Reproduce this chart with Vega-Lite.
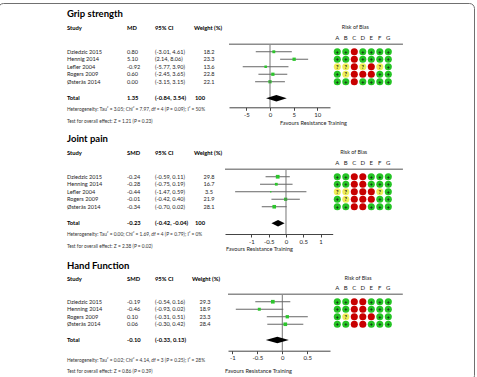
{
  "$schema": "https://vega.github.io/schema/vega-lite/v6.json",
  "width": 476,
  "height": 377,
  "autosize": {"type": "none"},
  "padding": {"left": -2, "top": 3, "right": 3, "bottom": -3},
  "background": "white",
  "config": {
    "view": {"stroke": "#707070", "strokeWidth": 1, "cornerRadius": 5},
    "font": "Lato",
    "axis": {"labelFont": "Lato", "labelFontSize": 6, "labelColor": "#222", "labelPadding": 1, "domainColor": "#444", "tickColor": "#444", "tickSize": 3, "grid": false, "titleFont": "Lato", "titleFontSize": 5.6, "titleFontWeight": "normal", "titleColor": "#222"},
    "style": {
      "tb": {"fontSize": 5.6, "color": "#1e1e1e", "baseline": "middle", "align": "left"},
      "tbb": {"fontSize": 5.8, "color": "#000", "fontWeight": "bold", "baseline": "middle", "align": "left"},
      "ttl": {"fontSize": 9.5, "color": "#000", "fontWeight": "bold", "baseline": "middle", "align": "left"},
      "note": {"fontSize": 4.8, "color": "#333", "baseline": "middle", "align": "left"},
      "rob": {"fontSize": 5.6, "color": "#222", "baseline": "middle", "align": "center"}
    }
  },
  "datasets": {
    "grip": [
      {"study": "Dziedzic 2015", "row": 1, "est": 0.80, "lo": -3.01, "hi": 4.61, "weight": 18.2},
      {"study": "Hennig 2014", "row": 2, "est": 5.10, "lo": 2.14, "hi": 8.06, "weight": 23.3},
      {"study": "Lefler 2004", "row": 3, "est": -0.92, "lo": -5.77, "hi": 3.90, "weight": 13.6},
      {"study": "Rogers 2009", "row": 4, "est": 0.60, "lo": -2.45, "hi": 3.65, "weight": 22.8},
      {"study": "Østerås 2014", "row": 5, "est": 0.00, "lo": -3.15, "hi": 3.15, "weight": 22.1}
    ],
    "grip_total": [{"study": "Total", "row": 7.2, "est": 1.35, "lo": -0.84, "hi": 3.54, "weight": 100}],
    "grip_head": [{"row": -2.15, "c1": "Study", "c2": "MD", "c3": "95% CI", "c4": "Weight (%)"}],
    "grip_notes": [
      {"row": -4.0, "kind": "title", "text": "Grip strength"},
      {"row": 8.8, "kind": "note", "text": "Heterogeneity: Tau² = 3.05; Chi² = 7.97, df = 4 (P = 0.09); I² = 50%"},
      {"row": 10.33, "kind": "note", "text": "Test for overall effect: Z = 1.21 (P = 0.23)"}
    ],
    "grip_rob": [
      {"row": 1, "dom": "A", "r": "+"}, {"row": 1, "dom": "B", "r": "+"}, {"row": 1, "dom": "C", "r": "-"}, {"row": 1, "dom": "D", "r": "+"}, {"row": 1, "dom": "E", "r": "+"}, {"row": 1, "dom": "F", "r": "+"}, {"row": 1, "dom": "G", "r": "+"},
      {"row": 2, "dom": "A", "r": "+"}, {"row": 2, "dom": "B", "r": "+"}, {"row": 2, "dom": "C", "r": "-"}, {"row": 2, "dom": "D", "r": "+"}, {"row": 2, "dom": "E", "r": "+"}, {"row": 2, "dom": "F", "r": "+"}, {"row": 2, "dom": "G", "r": "+"},
      {"row": 3, "dom": "A", "r": "?"}, {"row": 3, "dom": "B", "r": "?"}, {"row": 3, "dom": "C", "r": "-"}, {"row": 3, "dom": "D", "r": "?"}, {"row": 3, "dom": "E", "r": "-"}, {"row": 3, "dom": "F", "r": "?"}, {"row": 3, "dom": "G", "r": "+"},
      {"row": 4, "dom": "A", "r": "+"}, {"row": 4, "dom": "B", "r": "?"}, {"row": 4, "dom": "C", "r": "-"}, {"row": 4, "dom": "D", "r": "-"}, {"row": 4, "dom": "E", "r": "-"}, {"row": 4, "dom": "F", "r": "+"}, {"row": 4, "dom": "G", "r": "+"},
      {"row": 5, "dom": "A", "r": "+"}, {"row": 5, "dom": "B", "r": "+"}, {"row": 5, "dom": "C", "r": "-"}, {"row": 5, "dom": "D", "r": "+"}, {"row": 5, "dom": "E", "r": "+"}, {"row": 5, "dom": "F", "r": "+"}, {"row": 5, "dom": "G", "r": "+"}
    ],
    "joint": [
      {"study": "Dziedzic 2015", "row": 1, "est": -0.24, "lo": -0.59, "hi": 0.11, "weight": 29.8},
      {"study": "Henning 2014", "row": 2, "est": -0.28, "lo": -0.75, "hi": 0.19, "weight": 16.7},
      {"study": "Lefler 2004", "row": 3, "est": -0.44, "lo": -1.47, "hi": 0.59, "weight": 3.5},
      {"study": "Rogers 2009", "row": 4, "est": -0.01, "lo": -0.42, "hi": 0.40, "weight": 21.9},
      {"study": "Østerås 2014", "row": 5, "est": -0.34, "lo": -0.70, "hi": 0.02, "weight": 28.1}
    ],
    "joint_total": [{"study": "Total", "row": 7.2, "est": -0.23, "lo": -0.42, "hi": -0.04, "weight": 100}],
    "joint_head": [{"row": -2.13, "c1": "Study", "c2": "SMD", "c3": "95% CI", "c4": "Weight (%)"}],
    "joint_notes": [
      {"row": -4.0, "kind": "title", "text": "Joint pain"},
      {"row": 8.77, "kind": "note", "text": "Heterogeneity: Tau² = 0.00; Chi² = 1.69, df = 4 (P = 0.79); I² = 0%"},
      {"row": 10.33, "kind": "note", "text": "Test for overall effect: Z = 2.38 (P = 0.02)"}
    ],
    "joint_rob": [
      {"row": 1, "dom": "A", "r": "+"}, {"row": 1, "dom": "B", "r": "+"}, {"row": 1, "dom": "C", "r": "-"}, {"row": 1, "dom": "D", "r": "-"}, {"row": 1, "dom": "E", "r": "+"}, {"row": 1, "dom": "F", "r": "+"}, {"row": 1, "dom": "G", "r": "+"},
      {"row": 2, "dom": "A", "r": "+"}, {"row": 2, "dom": "B", "r": "+"}, {"row": 2, "dom": "C", "r": "-"}, {"row": 2, "dom": "D", "r": "-"}, {"row": 2, "dom": "E", "r": "+"}, {"row": 2, "dom": "F", "r": "+"}, {"row": 2, "dom": "G", "r": "+"},
      {"row": 3, "dom": "A", "r": "?"}, {"row": 3, "dom": "B", "r": "?"}, {"row": 3, "dom": "C", "r": "-"}, {"row": 3, "dom": "D", "r": "-"}, {"row": 3, "dom": "E", "r": "-"}, {"row": 3, "dom": "F", "r": "?"}, {"row": 3, "dom": "G", "r": "+"},
      {"row": 4, "dom": "A", "r": "+"}, {"row": 4, "dom": "B", "r": "?"}, {"row": 4, "dom": "C", "r": "-"}, {"row": 4, "dom": "D", "r": "-"}, {"row": 4, "dom": "E", "r": "-"}, {"row": 4, "dom": "F", "r": "+"}, {"row": 4, "dom": "G", "r": "+"},
      {"row": 5, "dom": "A", "r": "+"}, {"row": 5, "dom": "B", "r": "+"}, {"row": 5, "dom": "C", "r": "-"}, {"row": 5, "dom": "D", "r": "-"}, {"row": 5, "dom": "E", "r": "+"}, {"row": 5, "dom": "F", "r": "+"}, {"row": 5, "dom": "G", "r": "+"}
    ],
    "hand": [
      {"study": "Dziedzic 2015", "row": 1, "est": -0.19, "lo": -0.54, "hi": 0.16, "weight": 29.3},
      {"study": "Henning 2014", "row": 2, "est": -0.46, "lo": -0.93, "hi": 0.02, "weight": 18.9},
      {"study": "Rogers 2009", "row": 3, "est": 0.10, "lo": -0.31, "hi": 0.51, "weight": 23.3},
      {"study": "Østerås 2014", "row": 4, "est": 0.06, "lo": -0.30, "hi": 0.42, "weight": 28.4}
    ],
    "hand_total": [{"study": "Total", "row": 6.1, "est": -0.10, "lo": -0.33, "hi": 0.13, "weight": 100}],
    "hand_head": [{"row": -2.05, "c1": "Study", "c2": "SMD", "c3": "95% CI", "c4": "Weight (%)"}],
    "hand_notes": [
      {"row": -3.8, "kind": "title", "text": "Hand Function"},
      {"row": 8.9, "kind": "note", "text": "Heterogeneity: Tau² = 0.02; Chi² = 4.14, df = 3 (P = 0.25); I² = 28%"},
      {"row": 10.33, "kind": "note", "text": "Test for overall effect: Z = 0.86 (P = 0.39)"}
    ],
    "hand_rob": [
      {"row": 1, "dom": "A", "r": "+"}, {"row": 1, "dom": "B", "r": "+"}, {"row": 1, "dom": "C", "r": "-"}, {"row": 1, "dom": "D", "r": "-"}, {"row": 1, "dom": "E", "r": "+"}, {"row": 1, "dom": "F", "r": "+"}, {"row": 1, "dom": "G", "r": "+"},
      {"row": 2, "dom": "A", "r": "+"}, {"row": 2, "dom": "B", "r": "+"}, {"row": 2, "dom": "C", "r": "-"}, {"row": 2, "dom": "D", "r": "-"}, {"row": 2, "dom": "E", "r": "+"}, {"row": 2, "dom": "F", "r": "+"}, {"row": 2, "dom": "G", "r": "+"},
      {"row": 3, "dom": "A", "r": "+"}, {"row": 3, "dom": "B", "r": "?"}, {"row": 3, "dom": "C", "r": "-"}, {"row": 3, "dom": "D", "r": "-"}, {"row": 3, "dom": "E", "r": "-"}, {"row": 3, "dom": "F", "r": "+"}, {"row": 3, "dom": "G", "r": "+"},
      {"row": 4, "dom": "A", "r": "+"}, {"row": 4, "dom": "B", "r": "+"}, {"row": 4, "dom": "C", "r": "-"}, {"row": 4, "dom": "D", "r": "-"}, {"row": 4, "dom": "E", "r": "+"}, {"row": 4, "dom": "F", "r": "+"}, {"row": 4, "dom": "G", "r": "+"}
    ]
  },
  "layer": [
    {
      "layer": [
        {"layer": [
          {"data": {"name": "grip"}, "mark": {"type": "text", "style": "tb", "dx": -28},
           "encoding": {"x": {"datum": "Study", "type": "nominal", "scale": {"type": "point", "domain": ["Study", "Effect", "CI", "Weight"], "range": [97, 211], "padding": 0}, "axis": null},
             "y": {"field": "row", "type": "quantitative", "scale": {"domain": [-5.9, 10.767], "range": [-3, 122], "nice": false, "zero": false}, "axis": null},
             "text": {"field": "study"}}},
          {"data": {"name": "grip"}, "transform": [{"calculate": "replace(format(datum.est, '.2f'), '\u2212', '-')", "as": "lbl"}],
           "mark": {"type": "text", "style": "tb", "dx": -6},
           "encoding": {"x": {"datum": "Effect", "type": "nominal", "axis": null}, "y": {"field": "row", "type": "quantitative", "axis": null}, "text": {"field": "lbl"}}},
          {"data": {"name": "grip"}, "transform": [{"calculate": "'(' + replace(format(datum.lo, '.2f'), '\u2212', '-') + ', ' + replace(format(datum.hi, '.2f'), '\u2212', '-') + ')'", "as": "lbl"}],
           "mark": {"type": "text", "style": "tb", "dx": -16},
           "encoding": {"x": {"datum": "CI", "type": "nominal", "axis": null}, "y": {"field": "row", "type": "quantitative", "axis": null}, "text": {"field": "lbl"}}},
          {"data": {"name": "grip"}, "transform": [{"calculate": "format(datum.weight, '.1f')", "as": "lbl"}],
           "mark": {"type": "text", "style": "tb", "align": "center"},
           "encoding": {"x": {"datum": "Weight", "type": "nominal", "axis": null}, "y": {"field": "row", "type": "quantitative", "axis": null}, "text": {"field": "lbl"}}},
          {"data": {"name": "grip_total"}, "mark": {"type": "text", "style": "tbb", "dx": -28},
           "encoding": {"x": {"datum": "Study", "type": "nominal", "axis": null}, "y": {"field": "row", "type": "quantitative", "axis": null}, "text": {"field": "study"}}},
          {"data": {"name": "grip_total"}, "transform": [{"calculate": "replace(format(datum.est, '.2f'), '\u2212', '-')", "as": "lbl"}],
           "mark": {"type": "text", "style": "tbb", "dx": -6},
           "encoding": {"x": {"datum": "Effect", "type": "nominal", "axis": null}, "y": {"field": "row", "type": "quantitative", "axis": null}, "text": {"field": "lbl"}}},
          {"data": {"name": "grip_total"}, "transform": [{"calculate": "'(' + replace(format(datum.lo, '.2f'), '\u2212', '-') + ', ' + replace(format(datum.hi, '.2f'), '\u2212', '-') + ')'", "as": "lbl"}],
           "mark": {"type": "text", "style": "tbb", "dx": -16},
           "encoding": {"x": {"datum": "CI", "type": "nominal", "axis": null}, "y": {"field": "row", "type": "quantitative", "axis": null}, "text": {"field": "lbl"}}},
          {"data": {"name": "grip_total"}, "transform": [{"calculate": "format(datum.weight, '.0f')", "as": "lbl"}],
           "mark": {"type": "text", "style": "tbb", "align": "center", "dx": -9},
           "encoding": {"x": {"datum": "Weight", "type": "nominal", "axis": null}, "y": {"field": "row", "type": "quantitative", "axis": null}, "text": {"field": "lbl"}}},
          {"data": {"name": "grip_head"}, "mark": {"type": "text", "style": "tbb", "dx": -28},
           "encoding": {"x": {"datum": "Study", "type": "nominal", "axis": null}, "y": {"field": "row", "type": "quantitative", "axis": null}, "text": {"field": "c1"}}},
          {"data": {"name": "grip_head"}, "mark": {"type": "text", "style": "tbb", "dx": -6},
           "encoding": {"x": {"datum": "Effect", "type": "nominal", "axis": null}, "y": {"field": "row", "type": "quantitative", "axis": null}, "text": {"field": "c2"}}},
          {"data": {"name": "grip_head"}, "mark": {"type": "text", "style": "tbb", "dx": -16},
           "encoding": {"x": {"datum": "CI", "type": "nominal", "axis": null}, "y": {"field": "row", "type": "quantitative", "axis": null}, "text": {"field": "c3"}}},
          {"data": {"name": "grip_head"}, "mark": {"type": "text", "style": "tbb", "align": "center", "dx": -1},
           "encoding": {"x": {"datum": "Weight", "type": "nominal", "axis": null}, "y": {"field": "row", "type": "quantitative", "axis": null}, "text": {"field": "c4"}}},
          {"data": {"name": "grip_notes"}, "transform": [{"filter": "datum.kind == 'title'"}], "mark": {"type": "text", "style": "ttl", "dx": -28},
           "encoding": {"x": {"datum": "Study", "type": "nominal", "axis": null}, "y": {"field": "row", "type": "quantitative", "axis": null}, "text": {"field": "text"}}},
          {"data": {"name": "grip_notes"}, "transform": [{"filter": "datum.kind == 'note'"}], "mark": {"type": "text", "style": "note", "dx": -28},
           "encoding": {"x": {"datum": "Study", "type": "nominal", "axis": null}, "y": {"field": "row", "type": "quantitative", "axis": null}, "text": {"field": "text"}}}
        ]},
        {"layer": [
          {"data": {"name": "grip"}, "mark": {"type": "rule", "color": "#555", "strokeWidth": 0.9},
           "encoding": {"x": {"field": "lo", "type": "quantitative", "scale": {"domain": [-8.67, 12.68], "range": [231, 332], "nice": false, "zero": false},
               "axis": {"orient": "bottom", "values": [-5, 0, 5, 10], "format": "~g", "offset": -272.7, "title": "Favours Resistance Training", "titleX": 315, "titleY": 14.7, "titleAlign": "center", "titleBaseline": "middle", "labelExpr": "replace(datum.label, '\u2212', '-')"}},
             "x2": {"field": "hi"}, "y": {"field": "row", "type": "quantitative", "axis": null}}},
          {"data": {"name": "grip"}, "mark": {"type": "point", "shape": "square", "filled": true, "color": "#2cc52c", "opacity": 1},
           "encoding": {"x": {"field": "est", "type": "quantitative"}, "y": {"field": "row", "type": "quantitative", "axis": null},
             "size": {"field": "weight", "type": "quantitative", "scale": {"domain": [0, 30], "range": [0, 14]}, "legend": null}}},
          {"data": {"name": "grip_total"}, "mark": {"type": "rule", "color": "#666", "strokeWidth": 0.9},
           "encoding": {"x": {"datum": 0, "type": "quantitative"}, "y": {"datum": 0, "type": "quantitative", "axis": null}, "y2": {"datum": 8.41}}},
          {"data": {"name": "grip_total"}, "mark": {"type": "rule", "color": "#8c8c8c", "strokeWidth": 1.3},
           "encoding": {"x": {"datum": -8.67, "type": "quantitative"}, "x2": {"datum": 28.1}, "y": {"datum": 0, "type": "quantitative", "axis": null}}},
          {"data": {"name": "grip_total"}, "transform": [{"fold": ["lo", "est", "hi"], "as": ["k", "xv"]}, {"calculate": "datum.k == 'est' ? 0.42 : 0", "as": "h"}, {"calculate": "datum.row - datum.h", "as": "ya"}, {"calculate": "datum.row + datum.h", "as": "yb"}],
           "mark": {"type": "area", "color": "#000", "orient": "vertical", "opacity": 1},
           "encoding": {"x": {"field": "xv", "type": "quantitative"}, "y": {"field": "ya", "type": "quantitative", "axis": null}, "y2": {"field": "yb"}}}
        ]},
        {"layer": [
          {"data": {"name": "grip_rob"}, "mark": {"type": "point", "shape": "circle", "filled": true, "size": 50, "opacity": 1},
           "encoding": {"x": {"field": "dom", "type": "nominal", "scale": {"type": "point", "domain": ["A", "B", "C", "D", "E", "F", "G"], "range": [339.3, 390.3], "padding": 0}, "axis": null},
             "y": {"field": "row", "type": "quantitative", "axis": null},
             "color": {"field": "r", "type": "nominal", "scale": {"domain": ["+", "?", "-"], "range": ["#25c425", "#efee58", "#c80000"]}, "legend": null}}},
          {"data": {"name": "grip_rob"}, "transform": [{"filter": "datum.r != '-'"}], "mark": {"type": "text", "style": "rob", "fontWeight": "bold", "fontSize": 5.5, "color": "#111"},
           "encoding": {"x": {"field": "dom", "type": "nominal", "axis": null}, "y": {"field": "row", "type": "quantitative", "axis": null}, "text": {"field": "r"}}},
          {"data": {"name": "grip_rob"}, "transform": [{"aggregate": [{"op": "count", "as": "n"}], "groupby": ["dom"]}], "mark": {"type": "text", "style": "rob", "fontSize": 6},
           "encoding": {"x": {"field": "dom", "type": "nominal", "axis": null}, "y": {"datum": -0.84, "type": "quantitative", "axis": null}, "text": {"field": "dom"}}},
          {"data": {"name": "grip_total"}, "mark": {"type": "text", "style": "rob", "fontSize": 5.4, "dx": 1},
           "encoding": {"x": {"datum": "C", "type": "nominal", "axis": null}, "y": {"datum": -2.35, "type": "quantitative", "axis": null}, "text": {"value": "Risk of Bias"}}}
        ]}
      ],
      "resolve": {"scale": {"x": "independent"}}
    },
    {
      "layer": [
        {"layer": [
          {"data": {"name": "joint"}, "mark": {"type": "text", "style": "tb", "dx": -28},
           "encoding": {"x": {"datum": "Study", "type": "nominal", "scale": {"type": "point", "domain": ["Study", "Effect", "CI", "Weight"], "range": [97, 211], "padding": 0}, "axis": null},
             "y": {"field": "row", "type": "quantitative", "scale": {"domain": [-5.9, 10.767], "range": [122, 247], "nice": false, "zero": false}, "axis": null},
             "text": {"field": "study"}}},
          {"data": {"name": "joint"}, "transform": [{"calculate": "replace(format(datum.est, '.2f'), '\u2212', '-')", "as": "lbl"}],
           "mark": {"type": "text", "style": "tb", "dx": -6},
           "encoding": {"x": {"datum": "Effect", "type": "nominal", "axis": null}, "y": {"field": "row", "type": "quantitative", "axis": null}, "text": {"field": "lbl"}}},
          {"data": {"name": "joint"}, "transform": [{"calculate": "'(' + replace(format(datum.lo, '.2f'), '\u2212', '-') + ', ' + replace(format(datum.hi, '.2f'), '\u2212', '-') + ')'", "as": "lbl"}],
           "mark": {"type": "text", "style": "tb", "dx": -16},
           "encoding": {"x": {"datum": "CI", "type": "nominal", "axis": null}, "y": {"field": "row", "type": "quantitative", "axis": null}, "text": {"field": "lbl"}}},
          {"data": {"name": "joint"}, "transform": [{"calculate": "format(datum.weight, '.1f')", "as": "lbl"}],
           "mark": {"type": "text", "style": "tb", "align": "center"},
           "encoding": {"x": {"datum": "Weight", "type": "nominal", "axis": null}, "y": {"field": "row", "type": "quantitative", "axis": null}, "text": {"field": "lbl"}}},
          {"data": {"name": "joint_total"}, "mark": {"type": "text", "style": "tbb", "dx": -28},
           "encoding": {"x": {"datum": "Study", "type": "nominal", "axis": null}, "y": {"field": "row", "type": "quantitative", "axis": null}, "text": {"field": "study"}}},
          {"data": {"name": "joint_total"}, "transform": [{"calculate": "replace(format(datum.est, '.2f'), '\u2212', '-')", "as": "lbl"}],
           "mark": {"type": "text", "style": "tbb", "dx": -6},
           "encoding": {"x": {"datum": "Effect", "type": "nominal", "axis": null}, "y": {"field": "row", "type": "quantitative", "axis": null}, "text": {"field": "lbl"}}},
          {"data": {"name": "joint_total"}, "transform": [{"calculate": "'(' + replace(format(datum.lo, '.2f'), '\u2212', '-') + ', ' + replace(format(datum.hi, '.2f'), '\u2212', '-') + ')'", "as": "lbl"}],
           "mark": {"type": "text", "style": "tbb", "dx": -16},
           "encoding": {"x": {"datum": "CI", "type": "nominal", "axis": null}, "y": {"field": "row", "type": "quantitative", "axis": null}, "text": {"field": "lbl"}}},
          {"data": {"name": "joint_total"}, "transform": [{"calculate": "format(datum.weight, '.0f')", "as": "lbl"}],
           "mark": {"type": "text", "style": "tbb", "align": "center", "dx": -9},
           "encoding": {"x": {"datum": "Weight", "type": "nominal", "axis": null}, "y": {"field": "row", "type": "quantitative", "axis": null}, "text": {"field": "lbl"}}},
          {"data": {"name": "joint_head"}, "mark": {"type": "text", "style": "tbb", "dx": -28},
           "encoding": {"x": {"datum": "Study", "type": "nominal", "axis": null}, "y": {"field": "row", "type": "quantitative", "axis": null}, "text": {"field": "c1"}}},
          {"data": {"name": "joint_head"}, "mark": {"type": "text", "style": "tbb", "dx": -6},
           "encoding": {"x": {"datum": "Effect", "type": "nominal", "axis": null}, "y": {"field": "row", "type": "quantitative", "axis": null}, "text": {"field": "c2"}}},
          {"data": {"name": "joint_head"}, "mark": {"type": "text", "style": "tbb", "dx": -16},
           "encoding": {"x": {"datum": "CI", "type": "nominal", "axis": null}, "y": {"field": "row", "type": "quantitative", "axis": null}, "text": {"field": "c3"}}},
          {"data": {"name": "joint_head"}, "mark": {"type": "text", "style": "tbb", "align": "center", "dx": -1},
           "encoding": {"x": {"datum": "Weight", "type": "nominal", "axis": null}, "y": {"field": "row", "type": "quantitative", "axis": null}, "text": {"field": "c4"}}},
          {"data": {"name": "joint_notes"}, "transform": [{"filter": "datum.kind == 'title'"}], "mark": {"type": "text", "style": "ttl", "dx": -28},
           "encoding": {"x": {"datum": "Study", "type": "nominal", "axis": null}, "y": {"field": "row", "type": "quantitative", "axis": null}, "text": {"field": "text"}}},
          {"data": {"name": "joint_notes"}, "transform": [{"filter": "datum.kind == 'note'"}], "mark": {"type": "text", "style": "note", "dx": -28},
           "encoding": {"x": {"datum": "Study", "type": "nominal", "axis": null}, "y": {"field": "row", "type": "quantitative", "axis": null}, "text": {"field": "text"}}}
        ]},
        {"layer": [
          {"data": {"name": "joint"}, "mark": {"type": "rule", "color": "#555", "strokeWidth": 0.9},
           "encoding": {"x": {"field": "lo", "type": "quantitative", "scale": {"domain": [-1.763, 1.35], "range": [227, 334.7], "nice": false, "zero": false},
               "axis": {"orient": "bottom", "values": [-1, -0.5, 0, 0.5, 1], "format": "~g", "offset": -146, "title": "Favours Resistance Training", "titleX": 261, "titleY": 14, "titleAlign": "center", "titleBaseline": "middle", "labelExpr": "replace(datum.label, '\u2212', '-')"}},
             "x2": {"field": "hi"}, "y": {"field": "row", "type": "quantitative", "axis": null}}},
          {"data": {"name": "joint"}, "mark": {"type": "point", "shape": "square", "filled": true, "color": "#2cc52c", "opacity": 1},
           "encoding": {"x": {"field": "est", "type": "quantitative"}, "y": {"field": "row", "type": "quantitative", "axis": null},
             "size": {"field": "weight", "type": "quantitative", "scale": {"domain": [0, 30], "range": [0, 14]}, "legend": null}}},
          {"data": {"name": "joint_total"}, "mark": {"type": "rule", "color": "#666", "strokeWidth": 0.9},
           "encoding": {"x": {"datum": 0, "type": "quantitative"}, "y": {"datum": 0, "type": "quantitative", "axis": null}, "y2": {"datum": 8.63}}},
          {"data": {"name": "joint_total"}, "mark": {"type": "rule", "color": "#8c8c8c", "strokeWidth": 1.3},
           "encoding": {"x": {"datum": -1.763, "type": "quantitative"}, "x2": {"datum": 3.38}, "y": {"datum": 0, "type": "quantitative", "axis": null}}},
          {"data": {"name": "joint_total"}, "transform": [{"fold": ["lo", "est", "hi"], "as": ["k", "xv"]}, {"calculate": "datum.k == 'est' ? 0.42 : 0", "as": "h"}, {"calculate": "datum.row - datum.h", "as": "ya"}, {"calculate": "datum.row + datum.h", "as": "yb"}],
           "mark": {"type": "area", "color": "#000", "orient": "vertical", "opacity": 1},
           "encoding": {"x": {"field": "xv", "type": "quantitative"}, "y": {"field": "ya", "type": "quantitative", "axis": null}, "y2": {"field": "yb"}}}
        ]},
        {"layer": [
          {"data": {"name": "joint_rob"}, "mark": {"type": "point", "shape": "circle", "filled": true, "size": 50, "opacity": 1},
           "encoding": {"x": {"field": "dom", "type": "nominal", "scale": {"type": "point", "domain": ["A", "B", "C", "D", "E", "F", "G"], "range": [339.3, 390.3], "padding": 0}, "axis": null},
             "y": {"field": "row", "type": "quantitative", "axis": null},
             "color": {"field": "r", "type": "nominal", "scale": {"domain": ["+", "?", "-"], "range": ["#25c425", "#efee58", "#c80000"]}, "legend": null}}},
          {"data": {"name": "joint_rob"}, "transform": [{"filter": "datum.r != '-'"}], "mark": {"type": "text", "style": "rob", "fontWeight": "bold", "fontSize": 5.5, "color": "#111"},
           "encoding": {"x": {"field": "dom", "type": "nominal", "axis": null}, "y": {"field": "row", "type": "quantitative", "axis": null}, "text": {"field": "r"}}},
          {"data": {"name": "joint_rob"}, "transform": [{"aggregate": [{"op": "count", "as": "n"}], "groupby": ["dom"]}], "mark": {"type": "text", "style": "rob", "fontSize": 6},
           "encoding": {"x": {"field": "dom", "type": "nominal", "axis": null}, "y": {"datum": -0.8, "type": "quantitative", "axis": null}, "text": {"field": "dom"}}},
          {"data": {"name": "joint_total"}, "mark": {"type": "text", "style": "rob", "fontSize": 5.4, "dx": -0.6},
           "encoding": {"x": {"datum": "C", "type": "nominal", "axis": null}, "y": {"datum": -2.34, "type": "quantitative", "axis": null}, "text": {"value": "Risk of Bias"}}}
        ]}
      ],
      "resolve": {"scale": {"x": "independent"}}
    },
    {
      "layer": [
        {"layer": [
          {"data": {"name": "hand"}, "mark": {"type": "text", "style": "tb", "dx": -28},
           "encoding": {"x": {"datum": "Study", "type": "nominal", "scale": {"type": "point", "domain": ["Study", "Effect", "CI", "Weight"], "range": [97, 211], "padding": 0}, "axis": null},
             "y": {"field": "row", "type": "quantitative", "scale": {"domain": [-5.9, 10.767], "range": [247, 372], "nice": false, "zero": false}, "axis": null},
             "text": {"field": "study"}}},
          {"data": {"name": "hand"}, "transform": [{"calculate": "replace(format(datum.est, '.2f'), '\u2212', '-')", "as": "lbl"}],
           "mark": {"type": "text", "style": "tb", "dx": -6},
           "encoding": {"x": {"datum": "Effect", "type": "nominal", "axis": null}, "y": {"field": "row", "type": "quantitative", "axis": null}, "text": {"field": "lbl"}}},
          {"data": {"name": "hand"}, "transform": [{"calculate": "'(' + replace(format(datum.lo, '.2f'), '\u2212', '-') + ', ' + replace(format(datum.hi, '.2f'), '\u2212', '-') + ')'", "as": "lbl"}],
           "mark": {"type": "text", "style": "tb", "dx": -16},
           "encoding": {"x": {"datum": "CI", "type": "nominal", "axis": null}, "y": {"field": "row", "type": "quantitative", "axis": null}, "text": {"field": "lbl"}}},
          {"data": {"name": "hand"}, "transform": [{"calculate": "format(datum.weight, '.1f')", "as": "lbl"}],
           "mark": {"type": "text", "style": "tb", "align": "center", "dx": -4},
           "encoding": {"x": {"datum": "Weight", "type": "nominal", "axis": null}, "y": {"field": "row", "type": "quantitative", "axis": null}, "text": {"field": "lbl"}}},
          {"data": {"name": "hand_total"}, "mark": {"type": "text", "style": "tbb", "dx": -28},
           "encoding": {"x": {"datum": "Study", "type": "nominal", "axis": null}, "y": {"field": "row", "type": "quantitative", "axis": null}, "text": {"field": "study"}}},
          {"data": {"name": "hand_total"}, "transform": [{"calculate": "replace(format(datum.est, '.2f'), '\u2212', '-')", "as": "lbl"}],
           "mark": {"type": "text", "style": "tbb", "dx": -6},
           "encoding": {"x": {"datum": "Effect", "type": "nominal", "axis": null}, "y": {"field": "row", "type": "quantitative", "axis": null}, "text": {"field": "lbl"}}},
          {"data": {"name": "hand_total"}, "transform": [{"calculate": "'(' + replace(format(datum.lo, '.2f'), '\u2212', '-') + ', ' + replace(format(datum.hi, '.2f'), '\u2212', '-') + ')'", "as": "lbl"}],
           "mark": {"type": "text", "style": "tbb", "dx": -16},
           "encoding": {"x": {"datum": "CI", "type": "nominal", "axis": null}, "y": {"field": "row", "type": "quantitative", "axis": null}, "text": {"field": "lbl"}}},
          {"data": {"name": "hand_head"}, "mark": {"type": "text", "style": "tbb", "dx": -28},
           "encoding": {"x": {"datum": "Study", "type": "nominal", "axis": null}, "y": {"field": "row", "type": "quantitative", "axis": null}, "text": {"field": "c1"}}},
          {"data": {"name": "hand_head"}, "mark": {"type": "text", "style": "tbb", "dx": -6},
           "encoding": {"x": {"datum": "Effect", "type": "nominal", "axis": null}, "y": {"field": "row", "type": "quantitative", "axis": null}, "text": {"field": "c2"}}},
          {"data": {"name": "hand_head"}, "mark": {"type": "text", "style": "tbb", "dx": -16},
           "encoding": {"x": {"datum": "CI", "type": "nominal", "axis": null}, "y": {"field": "row", "type": "quantitative", "axis": null}, "text": {"field": "c3"}}},
          {"data": {"name": "hand_head"}, "mark": {"type": "text", "style": "tbb", "align": "center", "dx": -3},
           "encoding": {"x": {"datum": "Weight", "type": "nominal", "axis": null}, "y": {"field": "row", "type": "quantitative", "axis": null}, "text": {"field": "c4"}}},
          {"data": {"name": "hand_notes"}, "transform": [{"filter": "datum.kind == 'title'"}], "mark": {"type": "text", "style": "ttl", "dx": -28},
           "encoding": {"x": {"datum": "Study", "type": "nominal", "axis": null}, "y": {"field": "row", "type": "quantitative", "axis": null}, "text": {"field": "text"}}},
          {"data": {"name": "hand_notes"}, "transform": [{"filter": "datum.kind == 'note'"}], "mark": {"type": "text", "style": "note", "dx": -28},
           "encoding": {"x": {"datum": "Study", "type": "nominal", "axis": null}, "y": {"field": "row", "type": "quantitative", "axis": null}, "text": {"field": "text"}}}
        ]},
        {"layer": [
          {"data": {"name": "hand"}, "mark": {"type": "rule", "color": "#555", "strokeWidth": 0.9},
           "encoding": {"x": {"field": "lo", "type": "quantitative", "scale": {"domain": [-1.086, 0.954], "range": [230, 332], "nice": false, "zero": false},
               "axis": {"orient": "bottom", "values": [-1, -0.5, 0, 0.5], "format": "~g", "offset": -29.3, "title": "Favours Resistance Training", "titleX": 260, "titleY": 20, "titleAlign": "center", "titleBaseline": "middle", "labelExpr": "replace(datum.label, '\u2212', '-')"}},
             "x2": {"field": "hi"}, "y": {"field": "row", "type": "quantitative", "axis": null}}},
          {"data": {"name": "hand"}, "mark": {"type": "point", "shape": "square", "filled": true, "color": "#2cc52c", "opacity": 1},
           "encoding": {"x": {"field": "est", "type": "quantitative"}, "y": {"field": "row", "type": "quantitative", "axis": null},
             "size": {"field": "weight", "type": "quantitative", "scale": {"domain": [0, 30], "range": [0, 14]}, "legend": null}}},
          {"data": {"name": "hand_total"}, "mark": {"type": "rule", "color": "#666", "strokeWidth": 0.9},
           "encoding": {"x": {"datum": 0, "type": "quantitative"}, "y": {"datum": 0, "type": "quantitative", "axis": null}, "y2": {"datum": 7.53}}},
          {"data": {"name": "hand_total"}, "mark": {"type": "rule", "color": "#8c8c8c", "strokeWidth": 1.3},
           "encoding": {"x": {"datum": -1.086, "type": "quantitative"}, "x2": {"datum": 2.41}, "y": {"datum": 0, "type": "quantitative", "axis": null}}},
          {"data": {"name": "hand_total"}, "transform": [{"fold": ["lo", "est", "hi"], "as": ["k", "xv"]}, {"calculate": "datum.k == 'est' ? 0.42 : 0", "as": "h"}, {"calculate": "datum.row - datum.h", "as": "ya"}, {"calculate": "datum.row + datum.h", "as": "yb"}],
           "mark": {"type": "area", "color": "#000", "orient": "vertical", "opacity": 1},
           "encoding": {"x": {"field": "xv", "type": "quantitative"}, "y": {"field": "ya", "type": "quantitative", "axis": null}, "y2": {"field": "yb"}}}
        ]},
        {"layer": [
          {"data": {"name": "hand_rob"}, "mark": {"type": "point", "shape": "circle", "filled": true, "size": 50, "opacity": 1},
           "encoding": {"x": {"field": "dom", "type": "nominal", "scale": {"type": "point", "domain": ["A", "B", "C", "D", "E", "F", "G"], "range": [339.3, 390.3], "padding": 0}, "axis": null},
             "y": {"field": "row", "type": "quantitative", "axis": null},
             "color": {"field": "r", "type": "nominal", "scale": {"domain": ["+", "?", "-"], "range": ["#25c425", "#efee58", "#c80000"]}, "legend": null}}},
          {"data": {"name": "hand_rob"}, "transform": [{"filter": "datum.r != '-'"}], "mark": {"type": "text", "style": "rob", "fontWeight": "bold", "fontSize": 5.5, "color": "#111"},
           "encoding": {"x": {"field": "dom", "type": "nominal", "axis": null}, "y": {"field": "row", "type": "quantitative", "axis": null}, "text": {"field": "r"}}},
          {"data": {"name": "hand_rob"}, "transform": [{"aggregate": [{"op": "count", "as": "n"}], "groupby": ["dom"]}], "mark": {"type": "text", "style": "rob", "fontSize": 6},
           "encoding": {"x": {"field": "dom", "type": "nominal", "axis": null}, "y": {"datum": -0.8, "type": "quantitative", "axis": null}, "text": {"field": "dom"}}},
          {"data": {"name": "hand_total"}, "mark": {"type": "text", "style": "rob", "fontSize": 5.4, "dx": 3.7},
           "encoding": {"x": {"datum": "C", "type": "nominal", "axis": null}, "y": {"datum": -2.2, "type": "quantitative", "axis": null}, "text": {"value": "Risk of Bias"}}}
        ]}
      ],
      "resolve": {"scale": {"x": "independent"}}
    }
  ],
  "resolve": {"scale": {"x": "independent", "y": "independent"}}
}
